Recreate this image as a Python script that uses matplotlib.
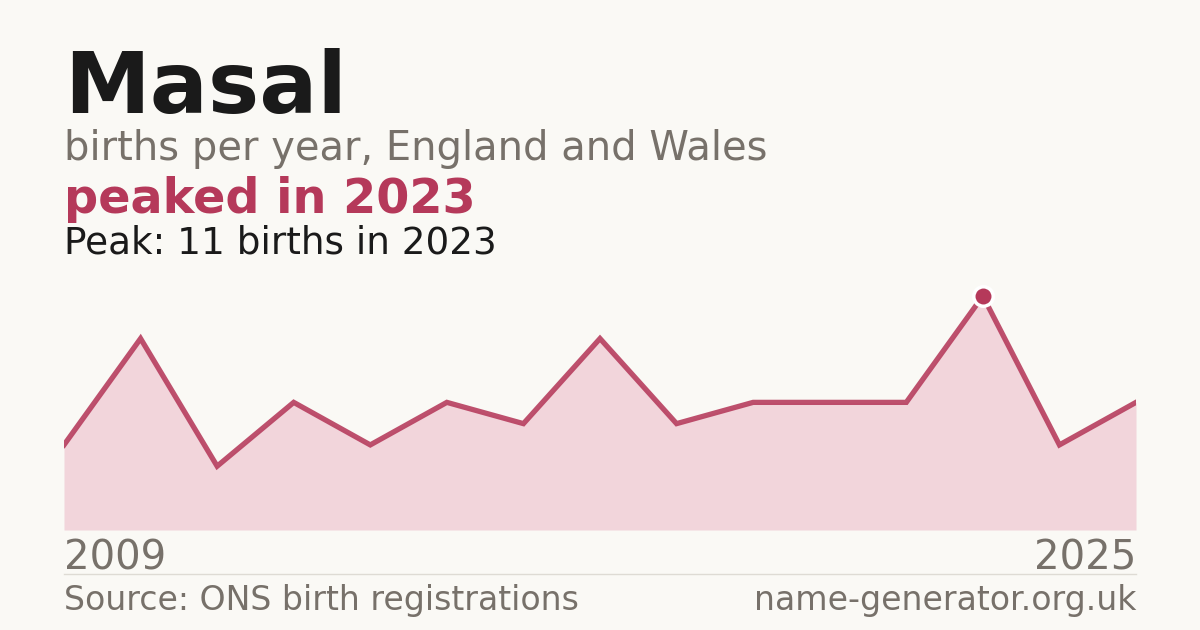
import numpy as np
import matplotlib.pyplot as plt

# births per year (15 recorded years, plotted in order)
births = [4, 9, 3, 6, 4, 6, 5, 9, 5, 6, 6, 6, 11, 4, 6]
first_year = "2009"
last_year = "2025"
peak_idx = 12
peak_year = "2023"

bg = "#faf9f5"
red = "#b5395a"
fill_col = "#f2d5db"
grey = "#77716a"
dark = "#1a1a1a"

W, H = 1200, 630
fig = plt.figure(figsize=(W / 100, H / 100), dpi=100, facecolor=bg)

def fx(px):
    return px / W

def fy(py):
    return 1 - py / H

ax = fig.add_axes([fx(64), fy(530), fx(1136) - fx(64), fy(296) - fy(530)])
ax.set_facecolor(bg)
x = np.arange(len(births))
ax.fill_between(x, births, 0, color=fill_col, lw=0)
ax.plot(x, births, color=red, lw=3.8, solid_joinstyle="miter", alpha=0.88)
ax.plot(x[peak_idx], births[peak_idx], "o", ms=14, color=red,
        mec="white", mew=2.5, clip_on=False, zorder=5)
ax.set_xlim(0, len(births) - 1)
ax.set_ylim(0, max(births))
ax.axis("off")

fig.text(fx(64), fy(113), "Masal", fontsize=62, fontweight="bold", color=dark, va="baseline")
fig.text(fx(64), fy(160), "births per year, England and Wales", fontsize=28.8, color=grey, va="baseline")
fig.text(fx(64), fy(213), "peaked in " + peak_year, fontsize=34.4, fontweight="bold", color=red, va="baseline")
fig.text(fx(64), fy(253), f"Peak: {max(births)} births in {peak_year}", fontsize=26.9, color=dark, va="baseline")

fig.text(fx(64), fy(570), first_year, fontsize=28.9, color=grey, va="baseline")
fig.text(fx(1136), fy(570), last_year, fontsize=28.9, color=grey, va="baseline", ha="right")

fig.add_artist(plt.Line2D([fx(64), fx(1136)], [fy(574), fy(574)], color="#dedbd4", lw=1))

fig.text(fx(64), fy(610), "Source: ONS birth registrations", fontsize=23.9, color=grey, va="baseline")
fig.text(fx(1136), fy(610), "name-generator.org.uk", fontsize=23.9, color=grey, va="baseline", ha="right")

fig.savefig("out.png", dpi=100, facecolor=bg)
